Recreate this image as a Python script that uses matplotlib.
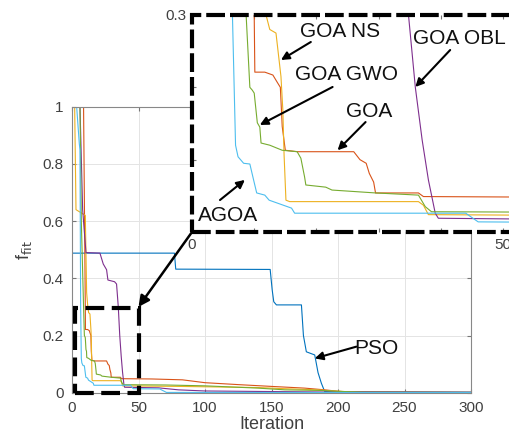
import matplotlib
matplotlib.use("Agg")
import matplotlib.pyplot as plt
from matplotlib.patches import Rectangle, ConnectionPatch

plt.rcParams['font.family'] = ['Liberation Sans', 'DejaVu Sans']

# ---------------- data ----------------
pso_iter = [1, 77, 78, 149, 150.5, 151.7, 153.7, 172.5, 174, 176.2, 182.5, 185, 187.5, 190, 300]
pso_val = [0.488, 0.488, 0.432, 0.431, 0.36, 0.318, 0.307, 0.307, 0.2, 0.143, 0.132, 0.07, 0.033, 0.004, 0.002]

goa_iter = [1, 8.7, 10, 10.1, 11.7, 13, 13.7, 14.2, 14.5, 15, 17, 26, 27, 28, 28.5, 29.2, 29.5,
            36.4, 37.2, 60, 83, 100, 126, 150, 175, 190, 200, 210, 300]
goa_val = [1, 1, 0.3, 0.221, 0.221, 0.217, 0.207, 0.2, 0.146, 0.113, 0.111, 0.111, 0.1, 0.095, 0.081,
           0.069, 0.054, 0.054, 0.049, 0.048, 0.045, 0.035, 0.028, 0.022, 0.016, 0.01, 0.005, 0.002, 0.001]

goans_iter = [1, 2, 3, 10, 11, 11.9, 12.5, 13.5, 14.3, 14.6, 14.8, 15.1, 15.7, 36.4, 37.2, 38,
              80, 110, 140, 160, 185, 200, 215, 300]
goans_val = [1, 1, 0.64, 0.62, 0.35, 0.3, 0.28, 0.275, 0.215, 0.169, 0.107, 0.044, 0.042, 0.042,
             0.037, 0.024, 0.022, 0.02, 0.018, 0.014, 0.01, 0.005, 0.002, 0.001]

goaobl_iter = [1, 6, 8, 10.5, 21, 23.5, 26, 27, 32, 33.5, 34.8, 35.9, 37, 38, 39.1, 39.6,
               65, 80, 100, 150, 200, 300]
goaobl_val = [1, 1, 0.64, 0.49, 0.488, 0.45, 0.43, 0.394, 0.388, 0.38, 0.3, 0.2, 0.127, 0.072,
              0.026, 0.019, 0.017, 0.01, 0.006, 0.004, 0.002, 0.001]

goagwo_iter = [1, 6, 7, 8.7, 9.3, 9.7, 10, 10.5, 10.9, 11.1, 12.5, 14.5, 16.9, 17.5, 18.1, 18.3,
               21.5, 22.5, 29.5, 36.4, 37.5, 38.5, 70, 100, 140, 160, 186, 200, 220, 300]
goagwo_val = [1, 1, 0.6, 0.3, 0.2, 0.196, 0.192, 0.151, 0.145, 0.123, 0.12, 0.113, 0.111, 0.102,
              0.076, 0.065, 0.062, 0.058, 0.054, 0.051, 0.035, 0.028, 0.027, 0.024, 0.016, 0.01,
              0.008, 0.005, 0.001, 0.0005]

agoa_iter = [1, 3.5, 5.5, 6, 6.5, 7, 7.4, 8.3, 9.3, 9.9, 10.4, 11.7, 12.4, 16, 16.5, 44, 46,
             66, 71, 300]
agoa_val = [1, 1, 0.87, 0.85, 0.3, 0.12, 0.104, 0.095, 0.094, 0.072, 0.054, 0.051, 0.044, 0.033,
            0.026, 0.026, 0.014, 0.013, 0.001, 0.0005]

series = [
    ("PSO", pso_iter, pso_val, "#0072BD"),
    ("GOA", goa_iter, goa_val, "#D95319"),
    ("GOA NS", goans_iter, goans_val, "#EDB120"),
    ("GOA OBL", goaobl_iter, goaobl_val, "#7E2F8E"),
    ("GOA GWO", goagwo_iter, goagwo_val, "#77AC30"),
    ("AGOA", agoa_iter, agoa_val, "#4DBEEE"),
]

x_ticks = [0, 50, 100, 150, 200, 250, 300]
y_ticks = [0, 0.2, 0.4, 0.6, 0.8, 1.0]
y_tick_labels = ["0", "0.2", "0.4", "0.6", "0.8", "1"]

inset_x_ticks = [0, 10, 20, 30, 40, 50]
inset_x_labels = ["0", "", "", "", "", "50"]
inset_y_ticks = [0, 0.1, 0.2, 0.3]
inset_y_labels = ["", "", "", "0.3"]

# ---------------- figure ----------------
W, H = 509, 441
fig = plt.figure(figsize=(W / 100, H / 100), dpi=100)

def frac(l, t, r, b):
    return [l / W, 1 - b / H, (r - l) / W, (b - t) / H]

txt_col = "#404040"
ax = fig.add_axes(frac(72, 106.7, 471, 392.7))
for name, xs, ys, c in series:
    ax.plot(xs, ys, color=c, lw=0.8)
ax.set_xlim(0, 300)
ax.set_ylim(0, 1)
ax.set_xticks(x_ticks)
ax.set_yticks(y_ticks)
ax.set_yticklabels(y_tick_labels)
ax.grid(True, color="#e4e4e4", lw=0.7)
ax.set_axisbelow(True)
ax.tick_params(direction="in", length=3, top=True, right=True, labelsize=11,
               colors="#777777", labelcolor=txt_col, pad=6)
for s in ax.spines.values():
    s.set_color("#888888")
    s.set_linewidth(0.8)
ax.set_xlabel("Iteration", fontsize=13, color=txt_col, labelpad=1)
ax.set_ylabel(r"f$_{\mathrm{fit}}$", fontsize=13, color=txt_col, labelpad=6)

# dashed zoom box in main axes
ax.add_patch(Rectangle((2, 0), 48, 0.295, fill=False, ec="black", lw=3,
                       ls=(0, (4.5, 1.8)), zorder=5, clip_on=False))

# PSO annotation
ax.annotate("", xy=(182.5, 0.12), xytext=(213.8, 0.161),
            arrowprops=dict(arrowstyle="-|>", color="black", lw=1.5, mutation_scale=12,
                            shrinkA=0, shrinkB=0))
ax.text(229, 0.153, "PSO", fontsize=15, ha="center", va="center", color="#111111")

# ---------------- inset (extends past the right edge, as in the reference) ----------------
axin = fig.add_axes(frac(192, 15, 513, 232))
axin.set_facecolor("white")
for name, xs, ys, c in series:
    axin.plot(xs, ys, color=c, lw=0.8)
axin.set_xlim(0, 51.6)
axin.set_ylim(0, 0.3)
axin.set_xticks(inset_x_ticks)
axin.set_xticklabels(inset_x_labels)
axin.set_yticks(inset_y_ticks)
axin.set_yticklabels(inset_y_labels)
axin.tick_params(direction="in", length=3, top=True, right=True, labelsize=11,
                 colors="#777777", labelcolor=txt_col, pad=4)
for s in axin.spines.values():
    s.set_visible(False)
axin.add_patch(Rectangle((0, 0), 1, 1, transform=axin.transAxes, fill=False, ec="black",
                         lw=3, ls=(0, (4.5, 1.2)), zorder=6, clip_on=False))

arrow_kw = dict(arrowstyle="-|>", color="black", lw=1.5, mutation_scale=12,
                shrinkA=0, shrinkB=0)
labels = [
    ("GOA NS", (23.8, 0.2765), (19.1, 0.2627), (14.3, 0.2378), "center"),
    ("GOA GWO", (24.9, 0.2184), (22.6, 0.2005), (10.9, 0.148), "center"),
    ("GOA", (28.4, 0.166), (27.9, 0.152), (23.4, 0.113), "center"),
    ("GOA OBL", (35.6, 0.268), (41.5, 0.2516), (35.9, 0.2005), "left"),
    ("AGOA", (5.75, 0.0235), (4.5, 0.0442), (8.5, 0.072), "center"),
]
for txt, tpos, tail, head, ha in labels:
    axin.annotate("", xy=head, xytext=tail, arrowprops=arrow_kw)
    axin.text(tpos[0], tpos[1], txt, fontsize=15, ha=ha, va="center", color="#111111")

# connecting arrow from inset to zoom box
con = ConnectionPatch(xyA=(0, 0), coordsA=axin.transAxes, xyB=(50, 0.3), coordsB=ax.transData,
                      arrowstyle="-|>", color="black", lw=1.8, mutation_scale=16,
                      shrinkA=0, shrinkB=0)
fig.add_artist(con)

fig.savefig("out.png", dpi=100)
